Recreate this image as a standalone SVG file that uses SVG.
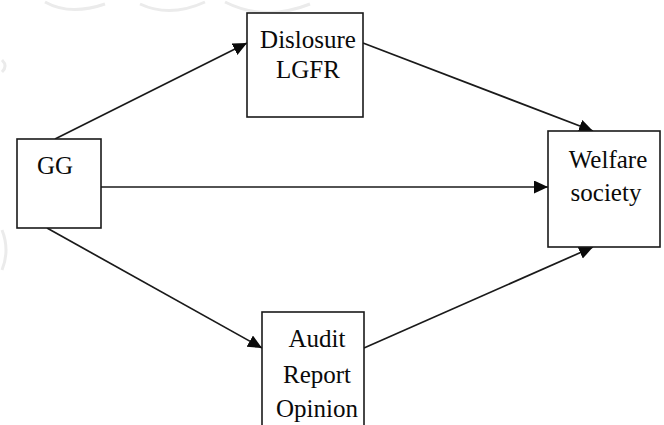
<svg xmlns="http://www.w3.org/2000/svg" width="664" height="425" viewBox="0 0 664 425">
<style>
.box{fill:#fff;stroke:#1a1a1a;stroke-width:1.6}
.lbl{font-family:"Liberation Serif","Times New Roman",serif;font-size:25px;fill:#0a0a0a;text-anchor:middle}
.con{stroke:#1a1a1a;stroke-width:1.7;fill:none;marker-end:url(#ah)}
.wm{stroke:#ebebeb;stroke-width:3;fill:none}
</style>
<defs>
<marker id="ah" markerWidth="16" markerHeight="14" refX="14" refY="6.5" orient="auto" markerUnits="userSpaceOnUse">
<path d="M0,0 L14,6.5 L0,13 z" fill="#0a0a0a"/>
</marker>
</defs>
<rect width="664" height="425" fill="#fff"/>
<g id="watermark">
<path class="wm" d="M45,2 Q70,16 105,4"/>
<path class="wm" d="M140,4 Q170,18 205,2"/>
<path class="wm" d="M225,2 Q265,22 310,4"/>
<path class="wm" d="M2,60 Q8,66 2,72"/>
<path class="wm" d="M2,230 Q10,250 2,270"/>
</g>
<g id="connectors">
<line class="con" x1="55" y1="139" x2="247" y2="43"/>
<line class="con" x1="363" y1="43" x2="593" y2="131"/>
<line class="con" x1="101" y1="187" x2="548" y2="187"/>
<line class="con" x1="47" y1="228" x2="262" y2="348"/>
<line class="con" x1="364" y1="348" x2="593" y2="247"/>
</g>
<g id="node-gg">
<rect class="box" x="17" y="139" width="84" height="89"/>
<text class="lbl" x="55" y="174">GG</text>
</g>
<g id="node-dislosure">
<rect class="box" x="247" y="13" width="116" height="104"/>
<text class="lbl" x="308" y="48">Dislosure</text>
<text class="lbl" x="308" y="78">LGFR</text>
</g>
<g id="node-welfare">
<rect class="box" x="548" y="131" width="112" height="116"/>
<text class="lbl" x="608" y="168">Welfare</text>
<text class="lbl" x="606" y="201">society</text>
</g>
<g id="node-audit">
<rect class="box" x="262" y="312" width="102" height="120"/>
<text class="lbl" x="317" y="347">Audit</text>
<text class="lbl" x="317" y="383">Report</text>
<text class="lbl" x="317" y="417">Opinion</text>
</g>
</svg>
